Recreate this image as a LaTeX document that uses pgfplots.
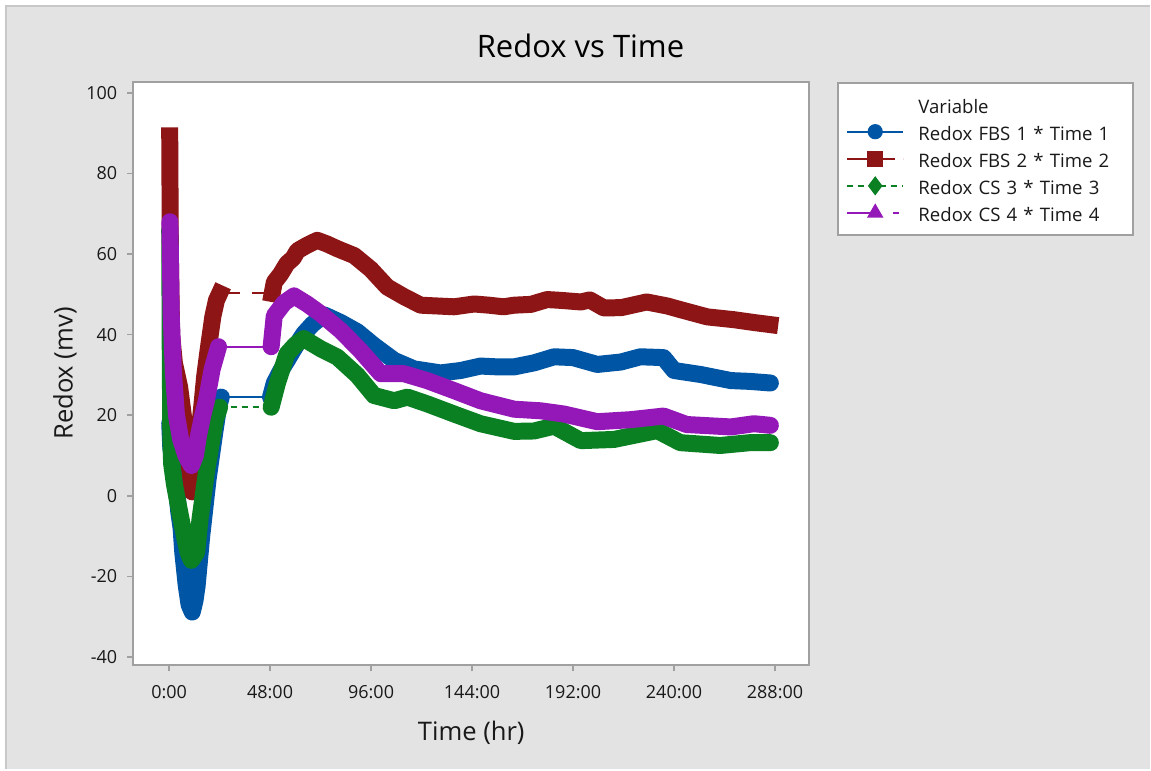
\documentclass[border=0pt]{standalone}
\usepackage{pgfplots}
\pgfplotsset{compat=1.18}
\usepackage{fontspec}
\setmainfont{Open Sans}
\definecolor{cblue}{RGB}{0,85,165}
\definecolor{cred}{RGB}{142,21,21}
\definecolor{cgreen}{RGB}{10,128,34}
\definecolor{cpurple}{RGB}{148,24,184}
\definecolor{bgc}{RGB}{227,227,227}
\definecolor{framec}{RGB}{200,200,200}
\definecolor{axc}{RGB}{160,160,160}
\definecolor{txc}{RGB}{25,25,25}
\begin{document}
\begin{tikzpicture}
\fill[white] (0pt,0pt) rectangle (575.5pt,385pt);
\fill[bgc] (3pt,0pt) rectangle (575.5pt,382pt);
\draw[framec, line width=1pt] (3pt,0pt) -- (3pt,382pt) -- (575.5pt,382pt);
\node[font=\fontsize{15.5}{18}\selectfont, text=black] at (290.5pt,362pt) {Redox vs Time};
\begin{axis}[
  at={(66.65pt,52pt)}, anchor=south west,
  scale only axis, width=338.35pt, height=292.15pt,
  xmin=-17.07, xmax=304.3, ymin=-42.05, ymax=102.75,
  xtick={0,48,96,144,192,240,288},
  xticklabels={0:00,48:00,96:00,144:00,192:00,240:00,288:00},
  ytick={-40,-20,0,20,40,60,80,100},
  yticklabels={-40,-20,0,20,40,60,80,100},
  xtick pos=bottom, ytick pos=left,
  tick align=outside, major tick length=3pt,
  tick style={axc, line width=0.8pt},
  axis line style={axc, line width=1pt},
  axis background/.style={fill=white},
  ticklabel style={font=\fontsize{9}{11}\selectfont, text=txc},
  xticklabel style={yshift=-3.5pt},
  yticklabel style={xshift=-1.5pt},
  xlabel={Time (hr)}, ylabel={Redox (mv)},
  label style={font=\fontsize{12.8}{15}\selectfont, text=txc},
  xlabel style={at={(axis description cs:0.5,-0.1147)}, anchor=center},
  ylabel style={at={(axis description cs:-0.1009,0.5)}, anchor=center},
  legend cell align=left,
  legend image code/.code={\draw[mark repeat=2,mark phase=2,#1] plot coordinates {(0pt,0pt) (14pt,0pt) (28pt,0pt)};},
  legend style={at={(1.0403,1)}, anchor=north west, draw=axc, line width=1pt, fill=white,
    inner xsep=4.35pt, inner ysep=6pt, font=\fontsize{9.3}{11}\selectfont, text=txc,
    nodes={text height=9.5pt, text depth=0.5pt, inner xsep=0pt, inner ysep=0pt, text width=103pt, align=left},
    row sep=3.55pt, /tikz/every odd column/.append style={column sep=7.15pt}},
]
\addlegendimage{empty legend}\addlegendentry{Variable}
\addlegendimage{cblue, line width=1pt, mark=*, mark size=3.3pt, mark options={solid}}\addlegendentry{Redox FBS 1 * Time 1}
\addlegendimage{cred, line width=1pt, dash pattern=on 10pt off 4pt, mark=square*, mark size=3.5pt, mark options={solid}}\addlegendentry{Redox FBS 2 * Time 2}
\addlegendimage{cgreen, line width=1pt, dash pattern=on 3pt off 2.5pt, mark=diamond*, mark size=4pt, mark options={solid}}\addlegendentry{Redox CS 3 * Time 3}
\addlegendimage{cpurple, line width=1pt, dash pattern=on 14pt off 9pt on 3pt off 5pt, mark=triangle*, mark size=3.8pt, mark options={solid}}\addlegendentry{Redox CS 4 * Time 4}

% ---------- Blue: Redox FBS 1 ----------
\addplot[cblue, line width=1pt, forget plot] coordinates {(24.8,24.5) (48.2,24.5)};
\addplot[cblue, line width=8.5pt, line join=round, line cap=round, forget plot] coordinates {
(0.3,18) (0.8,12) (2,7) (3.3,3) (4.6,-4) (5.7,-8) (6.5,-14) (8.1,-22) (9.5,-27) (11,-28.8) (12.3,-26) (13.3,-22.4) (15.5,-10) (18.5,4) (21.5,15) (23.5,22) (24.8,24.5)};
\addplot[cblue, line width=8.5pt, line join=round, line cap=round, forget plot] coordinates {
(48.2,24.5) (50,28) (53,31) (56,33.5) (60,37) (64,40.2) (68,42.5) (73.7,44.9) (81.6,43) (89.5,40.7) (97.4,37.3) (107,33.6) (116.4,31.5) (129,30.5) (138.6,31.1) (148,32.2) (156,32) (164,32) (173.5,33) (183,34.5) (192,34.3) (203.5,32.6) (214.7,33.2) (224,34.5) (235,34.3) (240,31.1) (252.7,30.1) (267,28.6) (276,28.4) (285.8,28)};

% ---------- Red: Redox FBS 2 ----------
\addplot[cred, line width=1pt, dash pattern=on 10pt off 6pt, forget plot] coordinates {(24,50.2) (49,50.2)};
\addplot[cred, line width=8.5pt, line join=round, line cap=rect, forget plot] coordinates {
(0.3,89.3) (0.6,60) (1.2,40) (2.5,33) (5,27) (8,15) (11,1) (13.5,12) (15.5,22) (16.9,29.6) (18.5,36) (20.8,44.5) (22.5,48.5) (24,50.2)};
\addplot[cred, line width=8.5pt, line join=round, line cap=rect, forget plot] coordinates {
(49,50.2) (50,53) (53,55) (56,57.6) (59,59) (61,60.8) (65,62) (70.4,63.4) (75,62.5) (80,61.3) (88,59.6) (95.9,56.2) (103.7,51.8) (111.7,49.4) (119.6,47.3) (135.5,46.9) (145,47.6) (152,47.3) (159,46.9) (164,47.3) (172,47.5) (179.7,48.7) (186,48.5) (195.7,48.1) (200,48.6) (206.7,46.6) (215,46.7) (227,48.1) (236.8,47.1) (243,46.2) (255.8,44.4) (268.5,43.7) (278,43) (285.5,42.5)};

% ---------- Green: Redox CS 3 ----------
\addplot[cgreen, line width=1pt, dash pattern=on 3pt off 2.5pt, forget plot] coordinates {(24,22) (48.5,22)};
\addplot[cgreen, line width=8.5pt, line join=round, line cap=round, forget plot] coordinates {
(0.3,66) (0.5,40) (0.8,15) (1.2,8) (2.5,3) (4.1,-1.5) (7.3,-10) (9,-14) (10.6,-16) (13.1,-14) (14.7,-5.7) (17.9,6.5) (20,13) (22,18.9) (24,22)};
\addplot[cgreen, line width=8.5pt, line join=round, line cap=round, forget plot] coordinates {
(48.5,22) (51.5,28) (56,35.2) (60,37.5) (64,39) (72,36.5) (80,34.4) (89.5,29.9) (97.4,24.9) (107,23.6) (113.3,24.5) (122.8,22.8) (135.5,20.3) (148,17.9) (164,16) (173.5,16.1) (183,17.3) (195.7,13.7) (211.5,14) (232,16.2) (243,13.2) (262,12.5) (276,13.2) (285.8,13.2)};

% ---------- Purple: Redox CS 4 ----------
\addplot[cpurple, line width=1pt, forget plot] coordinates {(23.5,37) (48.5,37)};
\addplot[cpurple, line width=8.5pt, line join=round, line cap=round, forget plot] coordinates {
(0.4,68) (1,45) (2,31) (3.5,20) (5.5,14) (8,10) (10.6,7.5) (12.5,10) (14,15) (16,20) (17.6,23.3) (20.5,31.5) (23.5,37)};
\addplot[cpurple, line width=8.5pt, line join=round, line cap=round, forget plot] coordinates {
(48.5,37) (50,44.7) (54.7,47.9) (59.4,49.6) (65.6,47.6) (72,45.2) (81.6,41) (91,36) (100.6,30.3) (111.7,30.3) (122.6,28.6) (135.5,26.1) (148,23.6) (164,21.5) (176.7,21.1) (187.7,20.3) (203.5,18.4) (219.4,18.9) (235,19.8) (246,17.7) (267,17.1) (278,17.9) (285.8,17.5)};
\end{axis}
\end{tikzpicture}
\end{document}
